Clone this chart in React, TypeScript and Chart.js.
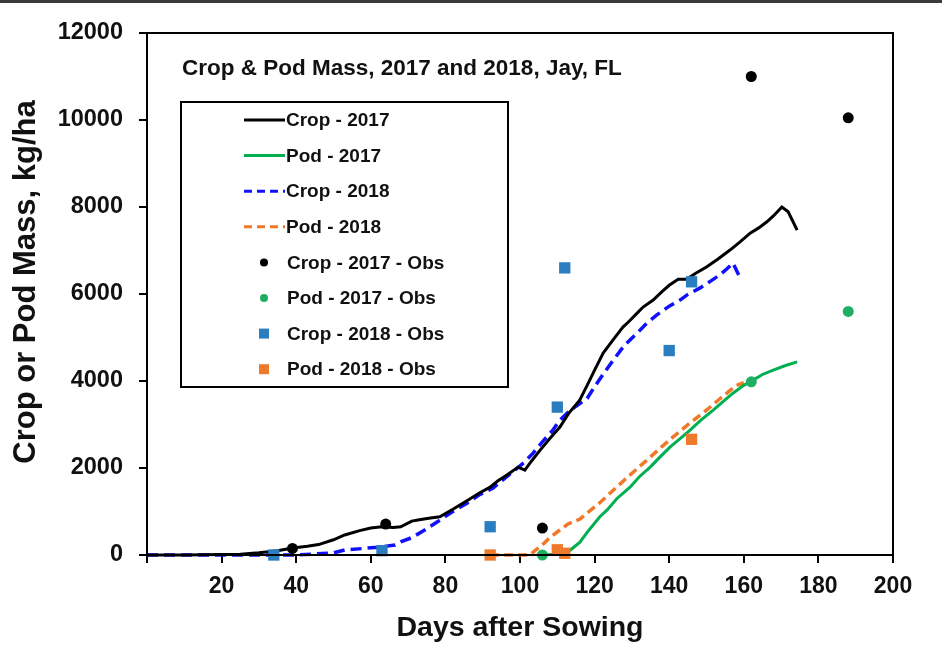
import React, { useEffect, useRef } from 'react';
import { Chart, registerables } from 'chart.js';

Chart.register(...registerables);

const chartTitle = 'Crop & Pod Mass, 2017 and 2018, Jay, FL';
const xAxisTitle = 'Days after Sowing';
const yAxisTitle = 'Crop or Pod Mass, kg/ha';

const crop2017Days = [0, 10, 20, 25, 30, 35, 39, 43, 46, 50, 53, 57, 60, 63, 66, 68, 71, 73, 76, 78.5, 82, 86, 89, 92, 94, 96.5, 99.5, 101.3, 103, 105.4, 108, 110.7, 113, 116, 118, 120, 122.3, 125, 127.6, 129, 131.4, 133, 135.7, 138, 140, 142.4, 144.7, 147, 150, 153, 156.3, 159, 161.7, 164, 166.2, 168, 170.2, 171.9, 174.3];
const crop2017Mass = [0, 0, 10, 20, 50, 100, 160, 200, 240, 350, 460, 560, 620, 650, 630, 650, 780, 810, 850, 880, 1050, 1260, 1420, 1560, 1700, 1840, 2020, 1950, 2150, 2410, 2680, 2940, 3250, 3560, 3900, 4250, 4640, 4950, 5240, 5350, 5560, 5700, 5860, 6050, 6200, 6340, 6340, 6470, 6620, 6800, 7010, 7200, 7400, 7520, 7660, 7800, 8000, 7890, 7470];

const pod2017Days = [105, 106, 110, 112.6, 114, 116, 118, 121.4, 123.3, 126, 129.5, 132, 134.9, 137.5, 140.2, 143, 145.6, 148.5, 151.8, 154.5, 157.1, 160, 162.5, 165, 167.9, 171, 174.3];
const pod2017Mass = [0, 0, 20, 50, 150, 290, 520, 880, 1030, 1300, 1560, 1800, 2020, 2250, 2480, 2680, 2870, 3100, 3330, 3530, 3720, 3900, 4020, 4150, 4250, 4350, 4440];

const crop2018Days = [0, 20, 40, 50, 53, 58, 62, 66.5, 68, 71, 74, 78.5, 82, 86, 89, 92.8, 95, 98, 101, 103.5, 106, 108.8, 110.5, 112.6, 115, 118, 120, 122.5, 125, 128, 131.4, 134, 136.7, 140, 142.9, 145, 148.3, 151, 153.6, 155.5, 157.1, 159];
const crop2018Mass = [0, 0, 0, 50, 115, 150, 180, 230, 300, 400, 550, 800, 1000, 1200, 1380, 1540, 1700, 1910, 2120, 2340, 2600, 2870, 3080, 3260, 3420, 3600, 3870, 4180, 4480, 4820, 5100, 5330, 5520, 5720, 5860, 5990, 6140, 6290, 6440, 6580, 6710, 6370];

const pod2018Days = [92, 100, 102.7, 104, 106, 108, 110.7, 113, 116, 118.5, 121.4, 125, 129.5, 134, 137.5, 141, 145.5, 150, 154, 158, 160];
const pod2018Mass = [0, 0, 0, 100, 230, 400, 575, 720, 820, 1000, 1200, 1490, 1840, 2180, 2450, 2710, 3030, 3330, 3620, 3900, 3960];

const crop2017ObsDays = [39, 64, 106, 162, 188];
const crop2017ObsMass = [150, 710, 620, 11000, 10050];
const pod2017ObsDays = [106, 162, 188];
const pod2017ObsMass = [0, 3980, 5600];
const crop2018ObsDays = [34, 63, 92, 110, 112, 140, 146];
const crop2018ObsMass = [0, 100, 650, 3400, 6600, 4700, 6280];
const pod2018ObsDays = [92, 110, 112, 146];
const pod2018ObsMass = [0, 120, 40, 2660];

const X_MIN = 0, X_MAX = 200, X_STEP = 20;
const Y_MIN = 0, Y_MAX = 12000, Y_STEP = 2000;

const FONT = '"Liberation Sans", Arial, sans-serif';

function pts(xs: number[], ys: number[]) {
  return xs.map((x, i) => ({ x, y: ys[i] }));
}

const frameAndLegend = {
  id: 'frameAndLegend',
  beforeDraw(chart: any) {
    const ctx = chart.ctx;
    ctx.save();
    ctx.fillStyle = '#ffffff';
    ctx.fillRect(0, 0, chart.width, chart.height);
    ctx.fillStyle = '#3a3a3a';
    ctx.fillRect(0, 0, chart.width, 3);
    ctx.restore();
  },
  afterDraw(chart: any) {
    const ctx = chart.ctx;
    const a = chart.chartArea;
    ctx.save();
    ctx.strokeStyle = '#000';
    ctx.lineWidth = 2;
    ctx.strokeRect(a.left, a.top, a.right - a.left, a.bottom - a.top);

    // y-axis title
    ctx.save();
    ctx.translate(26, 282);
    ctx.rotate(-Math.PI / 2);
    ctx.fillStyle = '#111';
    ctx.textAlign = 'center';
    ctx.textBaseline = 'middle';
    ctx.font = 'bold 31px ' + FONT;
    ctx.fillText(yAxisTitle, 0, 0);
    ctx.restore();

    ctx.fillStyle = '#111';
    ctx.textBaseline = 'middle';
    ctx.textAlign = 'left';
    ctx.font = 'bold 22.5px ' + FONT;
    ctx.fillText(chartTitle, 182, 69);

    ctx.lineWidth = 2;
    ctx.strokeStyle = '#000';
    ctx.strokeRect(181, 102, 327, 285);

    ctx.font = 'bold 19px ' + FONT;
    chart.data.datasets.forEach((ds: any, i: number) => {
      const y = 120 + i * 35.6;
      if (ds.showLine) {
        ctx.beginPath();
        ctx.setLineDash(ds.borderDash && ds.borderDash.length ? [8, 5] : []);
        ctx.strokeStyle = ds.borderColor;
        ctx.lineWidth = 3;
        ctx.moveTo(244, y);
        ctx.lineTo(285, y);
        ctx.stroke();
        ctx.setLineDash([]);
        ctx.fillStyle = '#111';
        ctx.fillText(ds.label, 286, y + 1);
      } else {
        ctx.fillStyle = ds.backgroundColor;
        if (ds.pointStyle === 'rect') {
          ctx.fillRect(264 - 5, y - 5, 10, 10);
        } else {
          ctx.beginPath();
          ctx.arc(264, y, 4, 0, Math.PI * 2);
          ctx.fill();
        }
        ctx.fillStyle = '#111';
        ctx.fillText(ds.label, 287, y + 1);
      }
    });
    ctx.restore();
  },
};

export default function App() {
  const ref = useRef<HTMLCanvasElement | null>(null);

  useEffect(() => {
    if (!ref.current) return;
    const lineDs = (label: string, xs: number[], ys: number[], color: string, width: number, dash: number[]) => ({
      label,
      data: pts(xs, ys),
      showLine: true,
      borderColor: color,
      backgroundColor: color,
      borderWidth: width,
      borderDash: dash,
      pointRadius: 0,
      tension: 0,
      order: 2,
      clip: false,
    });
    const obsDs = (label: string, xs: number[], ys: number[], color: string, style: string, r: number) => ({
      label,
      data: pts(xs, ys),
      showLine: false,
      borderColor: color,
      backgroundColor: color,
      pointStyle: style,
      pointRadius: r,
      pointBorderWidth: 0,
      order: 1,
      clip: false,
    });

    const chart = new Chart(ref.current, {
      type: 'scatter',
      data: {
        datasets: [
          lineDs('Crop - 2017', crop2017Days, crop2017Mass, '#000000', 3, []),
          lineDs('Pod - 2017', pod2017Days, pod2017Mass, '#00B050', 3, []),
          lineDs('Crop - 2018', crop2018Days, crop2018Mass, '#1010FF', 3.5, [11, 6]),
          lineDs('Pod - 2018', pod2018Days, pod2018Mass, '#F07828', 3.5, [9, 5]),
          obsDs('Crop - 2017 - Obs', crop2017ObsDays, crop2017ObsMass, '#000000', 'circle', 5.5),
          obsDs('Pod - 2017 - Obs', pod2017ObsDays, pod2017ObsMass, '#1EAE64', 'circle', 5.5),
          obsDs('Crop - 2018 - Obs', crop2018ObsDays, crop2018ObsMass, '#2A7EC0', 'rect', 8),
          obsDs('Pod - 2018 - Obs', pod2018ObsDays, pod2018ObsMass, '#EE7A2C', 'rect', 8),
        ] as any,
      },
      options: {
        responsive: false,
        animation: false,
        layout: { padding: { left: 0, top: 33, right: 49, bottom: 0 } },
        plugins: {
          legend: { display: false },
          tooltip: { enabled: false },
          title: { display: false },
        },
        scales: {
          x: {
            type: 'linear',
            min: X_MIN,
            max: X_MAX,
            afterFit: (s: any) => { s.height = 98; },
            ticks: {
              stepSize: X_STEP,
              color: '#111',
              font: { family: FONT, size: 23, weight: 'bold' },
              padding: 10,
              maxRotation: 0,
              callback: (v: any) => (v === 0 ? '' : String(v)),
            },
            grid: { drawOnChartArea: false, drawTicks: true, tickLength: 8, color: '#000', lineWidth: 2 },
            border: { display: true, color: '#000', width: 2 },
            title: {
              display: true,
              text: xAxisTitle,
              color: '#111',
              font: { family: FONT, size: 28.5, weight: 'bold' },
              padding: { top: 0, bottom: 8 },
            },
          },
          y: {
            type: 'linear',
            min: Y_MIN,
            max: Y_MAX,
            afterFit: (s: any) => { s.width = 147; },
            ticks: {
              stepSize: Y_STEP,
              color: '#111',
              font: { family: FONT, size: 23.5, weight: 'bold' },
              padding: 16,
              callback: (v: any) => String(v),
            },
            grid: { drawOnChartArea: false, drawTicks: true, tickLength: 8, color: '#000', lineWidth: 2 },
            border: { display: true, color: '#000', width: 2 },
            title: { display: false },
          },
        },
      } as any,
      plugins: [frameAndLegend],
    });
    return () => chart.destroy();
  }, []);

  return (
    <div style={{ position: 'absolute', left: 0, top: 0, width: 942, height: 653, background: '#fff' }}>
      <canvas ref={ref} width={942} height={653} style={{ display: 'block' }} />
    </div>
  );
}
